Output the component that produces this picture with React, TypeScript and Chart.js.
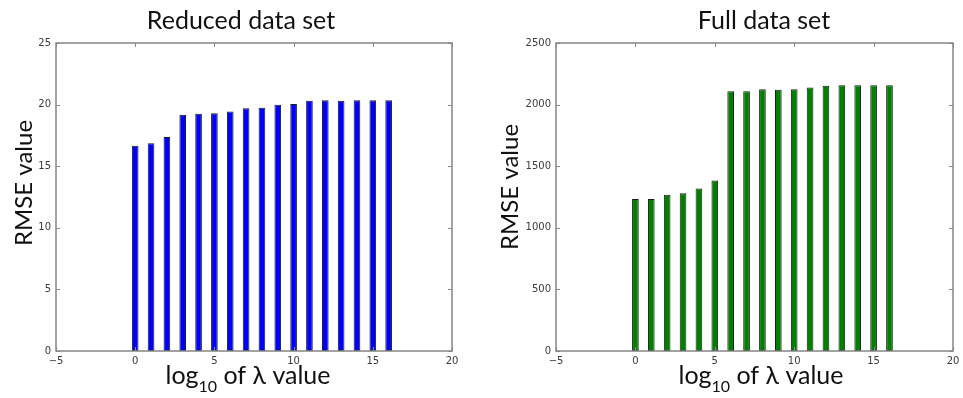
import React, { useEffect, useRef } from "react";
import { Chart, registerables } from "chart.js";

Chart.register(...registerables);

// ---- data ----
const lambdaExponents = [0, 1, 2, 3, 4, 5, 6, 7, 8, 9, 10, 11, 12, 13, 14, 15, 16];
const reducedRmse = [16.65, 16.87, 17.38, 19.17, 19.25, 19.3, 19.44, 19.71, 19.74, 19.98, 20.04, 20.31, 20.36, 20.31, 20.36, 20.36, 20.36];
const fullRmse = [1234, 1234, 1269, 1280, 1320, 1383, 2109, 2109, 2125, 2120, 2125, 2139, 2153, 2158, 2158, 2158, 2158];
const xTickValues = [-5, 0, 5, 10, 15, 20];
const reducedYTicks = [0, 5, 10, 15, 20, 25];
const fullYTicks = [0, 500, 1000, 1500, 2000, 2500];
const leftTitle = "Reduced data set";
const rightTitle = "Full data set";
const yLabel = "RMSE value";
const xLabelParts = ["log", "10", " of λ value"];

const TEXT_FONT = "Lato, 'Open Sans', sans-serif";

const mplFrame = {
  id: "mplFrame",
  afterDraw(chart: any, _args: any, opts: any) {
    const { ctx, chartArea, scales } = chart;
    const { left, top, right, bottom } = chartArea;
    ctx.save();
    // inward ticks
    ctx.strokeStyle = "#8c8c8c";
    ctx.lineWidth = 1;
    const tl = 4;
    ctx.beginPath();
    for (const v of opts.xTicks) {
      const px = Math.round(scales.x.getPixelForValue(v)) + 0.5;
      ctx.moveTo(px, bottom);
      ctx.lineTo(px, bottom - tl);
      ctx.moveTo(px, top);
      ctx.lineTo(px, top + tl);
    }
    for (const v of opts.yTicks) {
      const py = Math.round(scales.y.getPixelForValue(v)) + 0.5;
      ctx.moveTo(left, py);
      ctx.lineTo(left + tl, py);
      ctx.moveTo(right, py);
      ctx.lineTo(right - tl, py);
    }
    ctx.stroke();
    // frame
    ctx.lineWidth = 1.5;
    ctx.strokeStyle = "#858585";
    ctx.strokeRect(left, top, right - left, bottom - top);

    ctx.fillStyle = "#111";
    // title
    ctx.font = `25px ${TEXT_FONT}`;
    ctx.textAlign = "center";
    ctx.textBaseline = "alphabetic";
    ctx.fillText(opts.title, opts.titleX, 29);

    // y label
    ctx.save();
    ctx.translate(opts.yLabelX, opts.yLabelY);
    ctx.rotate(-Math.PI / 2);
    ctx.font = `24px ${TEXT_FONT}`;
    ctx.textAlign = "center";
    ctx.fillText(yLabel, 0, 0);
    ctx.restore();

    // x label with subscript
    const big = `25px ${TEXT_FONT}`;
    const small = `16px ${TEXT_FONT}`;
    ctx.textAlign = "left";
    ctx.font = big;
    const w1 = ctx.measureText(xLabelParts[0]).width;
    const w3 = ctx.measureText(xLabelParts[2]).width;
    ctx.font = small;
    const w2 = ctx.measureText(xLabelParts[1]).width;
    const x0 = opts.xLabelX - (w1 + w2 + w3) / 2;
    const base = 384;
    ctx.font = big;
    ctx.fillText(xLabelParts[0], x0, base);
    ctx.font = small;
    ctx.fillText(xLabelParts[1], x0 + w1, base + 8);
    ctx.font = big;
    ctx.fillText(xLabelParts[2], x0 + w1 + w2, base);
    ctx.restore();
  },
};

function makeConfig(
  values: number[],
  color: string,
  yTicks: number[],
  yWidth: number,
  padRight: number,
  plot: any
): any {
  const tickFont = { family: "'DejaVu Sans', sans-serif", size: 10 };
  return {
    type: "bar",
    data: {
      datasets: [
        {
          data: lambdaExponents.map((x, i) => ({ x, y: values[i] })),
          backgroundColor: color,
          borderColor: "#1b1b1b",
          borderWidth: 1,
          borderSkipped: false,
          barPercentage: 0.42,
          categoryPercentage: 1,
        },
      ],
    },
    options: {
      responsive: false,
      animation: false,
      layout: { padding: { left: 0, top: 43, right: padRight, bottom: 0 } },
      plugins: {
        legend: { display: false },
        tooltip: { enabled: false },
        mplFrame: { ...plot, xTicks: xTickValues, yTicks },
      },
      scales: {
        x: {
          type: "linear",
          offset: false,
          min: xTickValues[0],
          max: xTickValues[xTickValues.length - 1],
          grid: { display: false, offset: false, drawTicks: false },
          border: { display: false },
          afterBuildTicks: (s: any) => {
            s.ticks = xTickValues.map((v) => ({ value: v }));
          },
          afterFit: (s: any) => {
            s.height = 47;
            s.paddingLeft = 0;
            s.paddingRight = 0;
          },
          ticks: {
            font: tickFont,
            color: "#3a3a3a",
            padding: 4,
            maxRotation: 0,
            autoSkip: false,
            callback: (v: any) => String(v).replace("-", "\u2212"),
          },
        },
        y: {
          min: yTicks[0],
          max: yTicks[yTicks.length - 1],
          grid: { display: false, drawTicks: false },
          border: { display: false },
          afterBuildTicks: (s: any) => {
            s.ticks = yTicks.map((v) => ({ value: v }));
          },
          afterFit: (s: any) => {
            s.width = yWidth;
            s.paddingTop = 0;
            s.paddingBottom = 0;
          },
          ticks: {
            font: tickFont,
            color: "#3a3a3a",
            padding: 5,
            autoSkip: false,
            callback: (v: any) => String(v),
          },
        },
      },
    },
    plugins: [mplFrame],
  };
}

function BarChart({ config, width, height }: { config: any; width: number; height: number }) {
  const ref = useRef<HTMLCanvasElement | null>(null);
  useEffect(() => {
    if (!ref.current) return;
    const chart = new Chart(ref.current, config);
    return () => chart.destroy();
  }, [config]);
  return <canvas ref={ref} width={width} height={height} style={{ display: "block" }} />;
}

const leftConfig = makeConfig(reducedRmse, "#0000ff", reducedYTicks, 56, 28, {
  title: leftTitle,
  titleX: 241,
  yLabelX: 32,
  yLabelY: 183,
  xLabelX: 248,
});
const rightConfig = makeConfig(fullRmse, "#007f00", fullYTicks, 76, 10, {
  title: rightTitle,
  titleX: 284,
  yLabelX: 38,
  yLabelY: 187,
  xLabelX: 281,
});

export default function App() {
  return (
    <div
      style={{
        position: "fixed",
        left: 0,
        top: 0,
        width: 963,
        height: 398,
        background: "#fff",
        display: "flex",
      }}
    >
      <BarChart config={leftConfig} width={480} height={398} />
      <BarChart config={rightConfig} width={483} height={398} />
    </div>
  );
}
